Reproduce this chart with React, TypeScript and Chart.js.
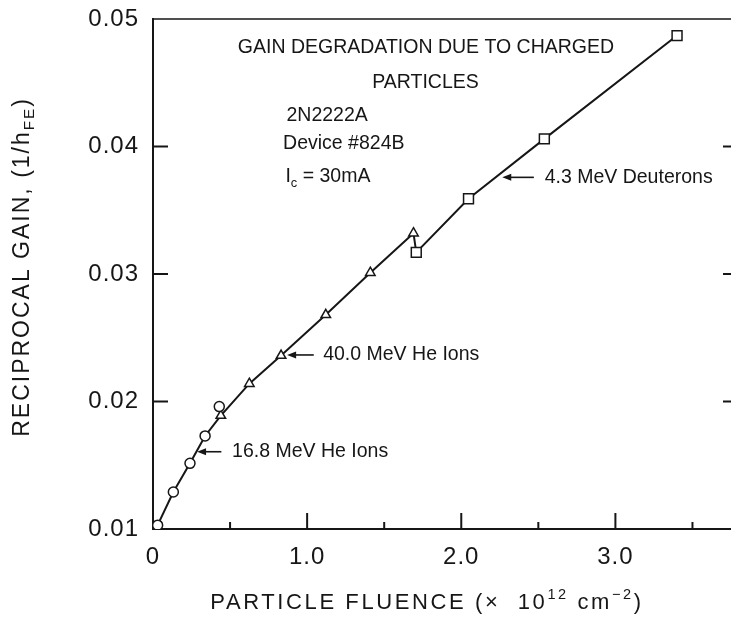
import React, { useEffect, useRef } from 'react';
import { Chart, registerables } from 'chart.js';

Chart.register(...registerables);

// ---- data ----
const heliumLowX = [0.03, 0.132, 0.24, 0.338, 0.43];
const heliumLowY = [0.0103, 0.0129, 0.01515, 0.0173, 0.0196];

const heliumHighX = [0.44, 0.625, 0.831, 1.121, 1.41, 1.69];
const heliumHighY = [0.0189, 0.0214, 0.0236, 0.0268, 0.0301, 0.0332];

const deuteronX = [1.708, 2.047, 2.539, 3.4];
const deuteronY = [0.0317, 0.0359, 0.0406, 0.0487];

// fitted curve drawn through the measurements
const curveX = [0.03, 0.132, 0.24, 0.338, 0.44, 0.625, 0.831, 1.121, 1.41, 1.69, 1.708, 2.047, 2.539, 3.4];
const curveY = [0.0103, 0.0129, 0.01515, 0.0173, 0.0189, 0.0214, 0.0236, 0.0268, 0.0301, 0.0332, 0.0317, 0.0359, 0.0406, 0.0487];

const xTickValues = [0, 1, 2, 3];
const xTickLabels = ['0', '1.0', '2.0', '3.0'];
const xMinorTicks = [0.5, 1.5, 2.5, 3.5];
const yTickValues = [0.01, 0.02, 0.03, 0.04, 0.05];
const yTickLabels = ['0.01', '0.02', '0.03', '0.04', '0.05'];

const xTitle = [{ t: 'PARTICLE FLUENCE (×  10' }, { t: '12', sup: true }, { t: ' cm' }, { t: '−2', sup: true }, { t: ')' }];
const yTitle = [{ t: 'RECIPROCAL GAIN, (1/h' }, { t: 'FE', sub: true }, { t: ')' }];

const notes = [
  { segs: [{ t: 'GAIN DEGRADATION DUE TO CHARGED' }], x: 1.771, y: 0.04778, align: 'center' },
  { segs: [{ t: 'PARTICLES' }], x: 1.768, y: 0.04504, align: 'center' },
  { segs: [{ t: '2N2222A' }], x: 0.866, y: 0.04242, align: 'left' },
  { segs: [{ t: 'Device #824B' }], x: 0.844, y: 0.04025, align: 'left' },
  { segs: [{ t: 'I' }, { t: 'c', sub: true }, { t: ' = 30mA' }], x: 0.859, y: 0.03763, align: 'left' },
  { segs: [{ t: '4.3 MeV Deuterons' }], x: 2.541, y: 0.03758, align: 'left' },
  { segs: [{ t: '40.0 MeV He Ions' }], x: 1.104, y: 0.02365, align: 'left' },
  { segs: [{ t: '16.8 MeV He Ions' }], x: 0.513, y: 0.01606, align: 'left' },
];

const arrows = [
  { tail: 2.471, head: 2.266, y: 0.03758 },
  { tail: 1.043, head: 0.87, y: 0.02365 },
  { tail: 0.4435, head: 0.286, y: 0.01606 },
];

const FONT = '"Liberation Sans", Arial, Helvetica, sans-serif';
const INK = '#161616';

type Seg = { t: string; sup?: boolean; sub?: boolean };

function drawRich(ctx: any, segs: Seg[], x: number, y: number, size: number, ls: number, align: string) {
  const parts = segs.map((s) => {
    const sz = s.sup || s.sub ? size * 0.66 : size;
    ctx.font = `${sz}px ${FONT}`;
    ctx.letterSpacing = `${ls}px`;
    return { s, sz, w: ctx.measureText(s.t).width };
  });
  const total = parts.reduce((a, p) => a + p.w, 0);
  let cx = align === 'center' ? x - total / 2 : x;
  ctx.textAlign = 'left';
  ctx.textBaseline = 'middle';
  for (const p of parts) {
    ctx.font = `${p.sz}px ${FONT}`;
    ctx.letterSpacing = `${ls}px`;
    const dy = p.s.sup ? -size * 0.38 : p.s.sub ? size * 0.33 : 0;
    ctx.fillText(p.s.t, cx, y + dy);
    cx += p.w;
  }
}

const decorPlugin = {
  id: 'decor',
  beforeDraw(chart: any) {
    chart.ctx.letterSpacing = '1px';
  },
  afterDraw(chart: any) {
    const { ctx, chartArea, scales } = chart;
    const xs = scales.x;
    const ys = scales.y;
    ctx.save();
    ctx.strokeStyle = INK;
    ctx.fillStyle = INK;
    // top frame line
    ctx.lineWidth = 1.5;
    ctx.beginPath();
    ctx.moveTo(chartArea.left, chartArea.top);
    ctx.lineTo(chartArea.right, chartArea.top);
    ctx.stroke();
    // inward ticks
    ctx.lineWidth = 2;
    ctx.beginPath();
    for (const v of xTickValues.slice(1)) {
      const px = xs.getPixelForValue(v);
      ctx.moveTo(px, chartArea.bottom);
      ctx.lineTo(px, chartArea.bottom - 16);
    }
    for (const v of xMinorTicks) {
      const px = xs.getPixelForValue(v);
      ctx.moveTo(px, chartArea.bottom);
      ctx.lineTo(px, chartArea.bottom - 7);
    }
    for (const v of yTickValues.slice(1, -1)) {
      const py = ys.getPixelForValue(v);
      ctx.moveTo(chartArea.left, py);
      ctx.lineTo(chartArea.left + 15, py);
      ctx.moveTo(chartArea.right, py);
      ctx.lineTo(chartArea.right - 8, py);
    }
    ctx.stroke();
    // arrows
    ctx.lineWidth = 1.6;
    for (const a of arrows) {
      const xt = xs.getPixelForValue(a.tail);
      const xh = xs.getPixelForValue(a.head);
      const py = ys.getPixelForValue(a.y);
      ctx.beginPath();
      ctx.moveTo(xt, py);
      ctx.lineTo(xh + 6, py);
      ctx.stroke();
      ctx.beginPath();
      ctx.moveTo(xh, py);
      ctx.lineTo(xh + 9, py - 3.5);
      ctx.lineTo(xh + 9, py + 3.5);
      ctx.closePath();
      ctx.fill();
    }
    // annotation texts
    for (const n of notes) {
      drawRich(ctx, n.segs, xs.getPixelForValue(n.x), ys.getPixelForValue(n.y), 19.5, 0, n.align);
    }
    // axis titles
    drawRich(ctx, xTitle, 427, 603, 22, 2.6, 'center');
    ctx.save();
    ctx.translate(22.5, 267);
    ctx.rotate(-Math.PI / 2);
    drawRich(ctx, yTitle, 0, 0, 23, 2, 'center');
    ctx.restore();
    ctx.restore();
  },
};

function pts(xs: number[], ys: number[]) {
  return xs.map((x, i) => ({ x, y: ys[i] }));
}

function noPad(s: any) {
  s.paddingTop = 0;
  s.paddingBottom = 0;
  s.paddingLeft = 0;
  s.paddingRight = 0;
}

export default function App() {
  const ref = useRef<HTMLCanvasElement>(null);
  useEffect(() => {
    if (!ref.current) return;
    const marker = {
      showLine: false,
      borderColor: INK,
      backgroundColor: '#ffffff',
      borderWidth: 1.5,
    };
    const chart = new Chart(ref.current, {
      type: 'line',
      data: {
        datasets: [
          { ...marker, label: '16.8 MeV He Ions', data: pts(heliumLowX, heliumLowY), pointStyle: 'circle', pointRadius: 5 },
          { ...marker, label: '40.0 MeV He Ions', data: pts(heliumHighX, heliumHighY), pointStyle: 'triangle', pointRadius: 5.5 },
          { ...marker, label: '4.3 MeV Deuterons', data: pts(deuteronX, deuteronY), pointStyle: 'rect', pointRadius: 7 },
          { label: 'curve', data: pts(curveX, curveY), borderColor: INK, borderWidth: 2, pointRadius: 0, tension: 0, fill: false },
        ],
      },
      options: {
        animation: false,
        responsive: false,
        devicePixelRatio: 1,
        layout: { autoPadding: false, padding: { top: 19, right: 0, left: 0, bottom: 0 } },
        plugins: { legend: { display: false }, tooltip: { enabled: false } },
        scales: {
          x: {
            type: 'linear',
            min: 0,
            max: 3.75,
            grid: { display: false, drawTicks: false },
            border: { display: true, color: INK, width: 2 },
            ticks: {
              stepSize: 0.5,
              includeBounds: false,
              autoSkip: false,
              maxRotation: 0,
              padding: 14,
              color: INK,
              font: { size: 24, family: FONT },
              callback: (v: any) => {
                const i = xTickValues.indexOf(Number(v));
                return i >= 0 ? xTickLabels[i] : '';
              },
            },
            afterFit: (s: any) => { s.height = 105; noPad(s); },
          },
          y: {
            type: 'linear',
            min: 0.01,
            max: 0.05,
            grid: { display: false, drawTicks: false },
            border: { display: true, color: INK, width: 2 },
            ticks: {
              stepSize: 0.01,
              padding: 14,
              color: INK,
              font: { size: 24, family: FONT },
              callback: (v: any) => {
                const i = yTickValues.findIndex((t) => Math.abs(t - Number(v)) < 1e-6);
                return i >= 0 ? yTickLabels[i] : '';
              },
            },
            afterFit: (s: any) => { s.width = 153; noPad(s); },
          },
        },
      },
      plugins: [decorPlugin],
    } as any);
    return () => chart.destroy();
  }, []);
  return (
    <div style={{ position: 'absolute', left: 0, top: 0, width: 731, height: 634, background: '#fff' }}>
      <canvas ref={ref} width={731} height={634} style={{ display: 'block' }} />
    </div>
  );
}
